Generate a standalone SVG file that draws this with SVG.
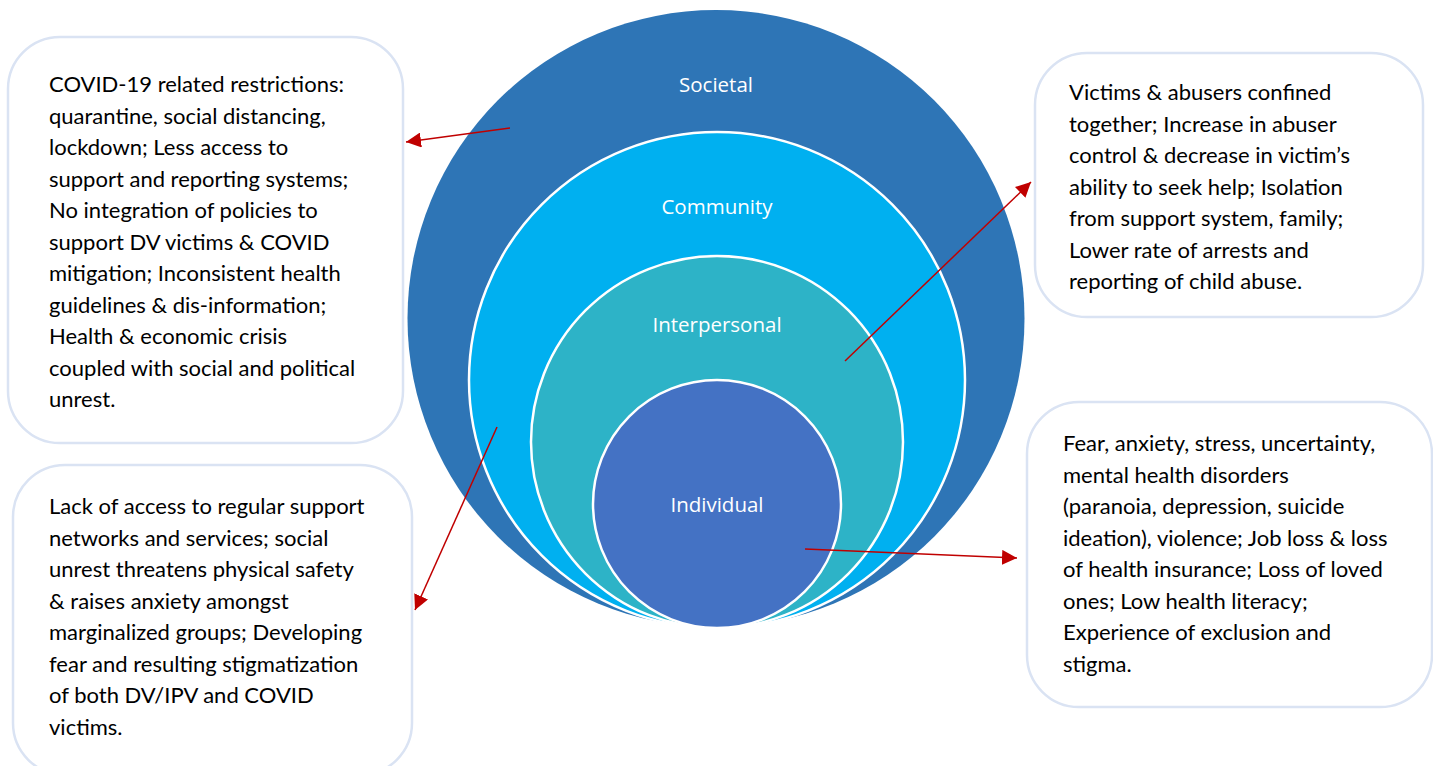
<svg xmlns="http://www.w3.org/2000/svg" width="1433" height="766" viewBox="0 0 1433 766">
  <defs>
    <marker id="arrow" viewBox="0 0 10 10" refX="10" refY="5" markerWidth="15" markerHeight="15" markerUnits="userSpaceOnUse" orient="auto">
      <path d="M0,0 L10,5 L0,10 Z" fill="#C00000"/>
    </marker>
    <style>
      .box { fill: #FFFFFF; stroke: #DAE3F3; stroke-width: 2.5; }
      .txt { font-family: Lato, "Liberation Sans", sans-serif; font-size: 22px; fill: #000000; }
      .ring { stroke: #FFFFFF; stroke-width: 2.5; }
      .lbl { font-family: "Open Sans", "Noto Sans", sans-serif; font-size: 20.5px; fill: #FFFFFF; text-anchor: middle; }
      .link { stroke: #C00000; stroke-width: 1.5; fill: none; }
    </style>
  </defs>
  <rect width="1433" height="766" fill="#FFFFFF"/>

  <!-- nested levels, all touching at the bottom -->
  <g id="societal">
    <circle cx="716" cy="318.5" r="308.5" fill="#2E75B6"/>
    <text class="lbl" x="716" y="92">Societal</text>
  </g>
  <g id="community">
    <circle class="ring" cx="717" cy="380" r="248" fill="#00B0F0"/>
    <text class="lbl" x="717" y="214">Community</text>
  </g>
  <g id="interpersonal">
    <circle class="ring" cx="717" cy="442" r="186" fill="#2DB3C7"/>
    <text class="lbl" x="717" y="332">Interpersonal</text>
  </g>
  <g id="individual">
    <circle class="ring" cx="717" cy="504" r="124" fill="#4472C4"/>
    <text class="lbl" x="717" y="512">Individual</text>
  </g>

  <!-- description boxes -->
  <g id="box-societal">
    <rect class="box" x="8" y="37" width="395" height="406" rx="52"/>
    <text class="txt">
      <tspan x="49" y="92">COVID-19 related restrictions:</tspan>
      <tspan x="49" y="123.5">quarantine, social distancing,</tspan>
      <tspan x="49" y="155">lockdown; Less access to</tspan>
      <tspan x="49" y="186.5">support and reporting systems;</tspan>
      <tspan x="49" y="218">No integration of policies to</tspan>
      <tspan x="49" y="249.5">support DV victims &amp; COVID</tspan>
      <tspan x="49" y="281">mitigation; Inconsistent health</tspan>
      <tspan x="49" y="312.5">guidelines &amp; dis-information;</tspan>
      <tspan x="49" y="344">Health &amp; economic crisis</tspan>
      <tspan x="49" y="375.5">coupled with social and political</tspan>
      <tspan x="49" y="407">unrest.</tspan>
    </text>
  </g>
  <g id="box-community">
    <rect class="box" x="13" y="465" width="399" height="310" rx="52"/>
    <text class="txt">
      <tspan x="49" y="514">Lack of access to regular support</tspan>
      <tspan x="49" y="545.5">networks and services; social</tspan>
      <tspan x="49" y="577">unrest threatens physical safety</tspan>
      <tspan x="49" y="608.5">&amp; raises anxiety amongst</tspan>
      <tspan x="49" y="640">marginalized groups; Developing</tspan>
      <tspan x="49" y="671.5">fear and resulting stigmatization</tspan>
      <tspan x="49" y="703">of both DV/IPV and COVID</tspan>
      <tspan x="49" y="734.5">victims.</tspan>
    </text>
  </g>
  <g id="box-interpersonal">
    <rect class="box" x="1035" y="53" width="388" height="264" rx="52"/>
    <text class="txt">
      <tspan x="1069" y="100">Victims &amp; abusers confined</tspan>
      <tspan x="1069" y="131.5">together; Increase in abuser</tspan>
      <tspan x="1069" y="163">control &amp; decrease in victim’s</tspan>
      <tspan x="1069" y="194.5">ability to seek help; Isolation</tspan>
      <tspan x="1069" y="226">from support system, family;</tspan>
      <tspan x="1069" y="257.5">Lower rate of arrests and</tspan>
      <tspan x="1069" y="289">reporting of child abuse.</tspan>
    </text>
  </g>
  <g id="box-individual">
    <rect class="box" x="1027" y="402" width="405" height="305" rx="52"/>
    <text class="txt">
      <tspan x="1063" y="451">Fear, anxiety, stress, uncertainty,</tspan>
      <tspan x="1063" y="482.5">mental health disorders</tspan>
      <tspan x="1063" y="514">(paranoia, depression, suicide</tspan>
      <tspan x="1063" y="545.5">ideation), violence; Job loss &amp; loss</tspan>
      <tspan x="1063" y="577">of health insurance; Loss of loved</tspan>
      <tspan x="1063" y="608.5">ones; Low health literacy;</tspan>
      <tspan x="1063" y="640">Experience of exclusion and</tspan>
      <tspan x="1063" y="671.5">stigma.</tspan>
    </text>
  </g>

  <!-- connectors from each level to its description -->
  <g id="connectors">
    <line class="link" x1="510" y1="128" x2="406" y2="142" marker-end="url(#arrow)"/>
    <line class="link" x1="845" y1="361" x2="1031" y2="182" marker-end="url(#arrow)"/>
    <line class="link" x1="497" y1="427" x2="415" y2="610" marker-end="url(#arrow)"/>
    <line class="link" x1="805" y1="549" x2="1017" y2="558" marker-end="url(#arrow)"/>
  </g>
</svg>
